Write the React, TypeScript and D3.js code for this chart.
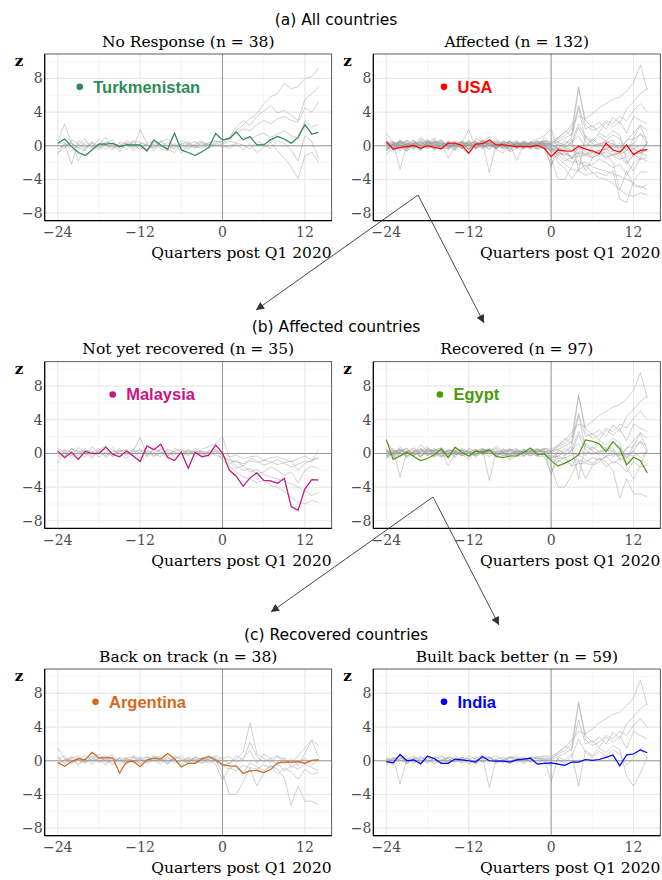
import React from "react";
import * as d3 from "d3";

// quarters relative to Q1 2020
const quarters = [-24, -23, -22, -21, -20, -19, -18, -17, -16, -15, -14, -13, -12, -11, -10, -9, -8, -7, -6, -5, -4, -3, -2, -1, 0, 1, 2, 3, 4, 5, 6, 7, 8, 9, 10, 11, 12, 13, 14];
const xTicks = [-24, -12, 0, 12];
const xMinor = [-18, -6, 6];
const yTicks = [-8, -4, 0, 4, 8];
const yMinor = [-6, -2, 2, 6, 10];

// highlighted countries
const turkmenistan = [0.3, 0.8, -0.1, -0.8, -1.15, -0.5, 0.2, 0.2, 0.3, -0.1, 0.1, 0.1, 0.1, -0.6, 0.7, 0.1, -0.4, 1.5, -0.5, -0.8, -1.15, -0.7, -0.2, 1.45, 0.7, 0.85, 1.65, 0.7, 1.1, 0.1, 0.1, 0.7, 1.1, 0.8, 0.3, 1.0, 2.5, 1.4, 1.6];
const usa = [0.5, -0.4, -0.2, -0.1, 0.05, -0.3, 0, -0.2, -0.35, 0.3, 0.3, 0.05, -0.9, 0.2, 0.25, 0.7, 0.1, 0.1, 0, -0.1, -0.1, -0.1, 0.05, -0.3, -1.3, -0.5, -0.6, -0.65, -0.05, -0.4, -0.6, -0.95, 0.3, -0.5, -0.75, 0.1, -1.05, -0.55, -0.45];
const malaysia = [0.3, -0.5, 0.15, -0.7, 0.25, 0, 0, 0.75, -0.1, -0.4, 0.3, -0.3, -0.95, 0.9, 0.45, 1.1, -0.45, -0.85, 0.15, -1.75, 0.15, -0.4, -0.2, 1.0, 0.05, -2.0, -2.7, -3.9, -2.9, -2.3, -3.2, -3.25, -3.55, -2.95, -6.3, -6.75, -4.2, -3.1, -3.15];
const egypt = [1.65, -0.7, -0.3, 0.15, -0.35, -0.85, -0.6, -0.15, 0.55, -0.5, 0.75, 0.15, -0.3, 0.3, 0.1, 0.45, -0.35, -0.5, -0.3, -0.3, 0.15, 0.65, -0.15, -0.05, -0.85, -1.5, -1.15, -0.75, -0.15, 1.6, 1.45, 1.15, 0.2, 1.4, 0.55, -1.35, -0.45, -0.85, -2.3];
const argentina = [-0.2, -0.65, -0.1, 0.25, 0.1, 1.0, 0.35, 0.35, 0.35, -1.45, -0.15, -0.05, -0.7, 0.1, 0.3, 0.2, 0.85, 0.25, -0.75, -0.3, -0.3, 0.2, 0.5, 0.1, -0.45, -0.6, -0.65, -1.5, -1.2, -1.15, -1.4, -1.05, -0.25, -0.15, -0.15, -0.1, -0.3, 0.05, 0.1];
const india = [-0.1, -0.25, 0.75, 0, 0.1, -0.35, 0.55, 0.25, -0.3, -0.3, 0.2, 0.1, 0, -0.15, 0.5, 0, -0.05, -0.05, -0.15, 0.1, 0.2, 0.3, -0.4, -0.3, -0.25, -0.4, -0.55, -0.15, -0.15, 0.15, 0.05, 0.15, 0.4, 0.7, -0.6, 0.7, 0.8, 1.3, 0.95];

// background countries, no response
const noResponse = [
  [0.6, 2.6, 0.3, -0.4, 0.5, -0.2, 0.8, 0.1, -0.5, 0.4, 0.2, -0.3, 1.9, 0.3, -0.6, 0.5, 0.1, -0.4, 0.6, 0.2, -0.3, 0.4, 0.1, 0.3, 0.6, 1.0, 1.8, 2.5, 3.2, 3.8, 5.0, 5.8, 6.2, 7.4, 6.8, 7.0, 8.0, 8.2, 9.2],
  [-0.8, -0.3, 0.5, -1.8, -0.2, 0.4, -0.5, 0.3, 0.7, -0.4, 0.1, 0.5, -0.2, -0.7, 0.4, 0.0, -0.5, 0.3, -0.9, 0.2, 0.5, -0.1, 0.4, 0.6, 0.3, 0.8, 1.5, 2.0, 1.8, 2.5, 3.0, 2.6, 3.2, 3.5, 3.0, 2.8, 4.5, 4.0, 5.2],
  [0.2, 0.4, -0.6, 0.1, 0.8, -0.3, 0.2, 1.0, -0.2, 0.3, -0.5, 0.6, 0.4, 0.1, -0.3, 0.5, 0.8, -0.2, 0.2, -0.4, 0.3, 0.6, -0.1, 0.2, 0.2, 0.5, 0.4, 1.0, 0.8, 1.2, 1.5, 1.0, 1.4, 1.8, 1.2, 0.9, 3.0, 2.2, 2.6],
  [-0.4, 0.1, 0.3, -0.2, -0.6, 0.5, -0.1, -0.4, 0.2, -0.7, 0.3, -0.1, 0.0, -0.5, 0.2, -0.3, -0.6, 0.1, -0.2, 0.3, -0.1, -0.3, 0.2, 0.0, 0.1, -0.3, 0.2, -0.5, 0.3, -0.8, -0.2, 0.4, -0.6, -1.5, -2.5, -3.9, -1.2, -0.8, -2.0],
  [-1.0, 0.3, -2.2, 0.6, 0.1, -0.5, 0.3, 0.2, -0.3, 0.0, 0.4, -0.6, 0.3, 0.1, -0.2, 0.6, -0.4, -0.8, 0.3, -0.2, 0.1, 0.4, -0.3, 0.1, -0.2, 0.0, 0.3, 0.1, -0.4, 0.5, 0.2, -0.3, 0.6, 0.3, -0.5, -1.8, 1.2, 0.5, -1.5],
  [0.1, -0.2, 0.7, 0.2, -0.4, 0.3, -0.3, 0.5, 0.1, -0.2, 0.6, 0.2, -0.5, 0.3, 0.5, -0.1, 0.4, 0.0, 0.2, 0.5, -0.2, 0.1, 0.3, 0.5, 0.5, 1.0, 2.2, 3.0, 2.4, 3.5, 4.1, 4.8, 3.9, 4.2, 3.6, 3.0, 5.5, 6.2, 7.0],
  turkmenistan,
];

// not yet recovered
const notRecovered = [
  [0.3, -0.4, 0.6, 0.1, -0.5, 0.8, 0.2, -0.3, 0.4, 0.0, -0.6, 0.3, 1.9, -0.2, 0.5, 0.1, -0.4, 0.6, 0.2, -0.3, 0.4, -0.1, 0.3, 0.5, -0.3, -0.8, -1.0, -1.2, -0.9, -1.1, -0.8, -1.0, -1.3, -1.1, -0.9, -2.0, -1.2, -0.8, -0.6],
  [-0.5, 0.2, -0.3, 0.7, 0.1, -0.6, 0.4, 0.9, -0.2, 0.3, 0.5, -0.4, 0.2, 0.6, -0.3, 0.0, 0.4, -0.5, 0.1, 0.3, -0.2, 0.5, 0.8, 1.2, 2.0, -0.5, -1.5, -2.0, -1.8, -2.4, -2.2, -1.6, -2.0, -2.6, -2.2, -3.5, -2.0, -1.5, -1.8],
  [0.6, 0.1, -0.2, -0.6, 0.4, 0.2, -0.4, 0.1, 0.7, -0.3, 0.2, 0.4, -0.5, 0.3, 0.0, -0.4, 0.5, 0.2, -0.6, 0.4, 0.1, -0.3, 0.2, -0.2, -0.5, -1.2, -0.8, -1.5, -0.6, -0.9, -1.4, -1.1, -0.7, -1.2, -1.6, -1.3, -0.9, -1.0, 0.5],
  [-1.2, 0.4, 0.2, -0.3, 0.6, -0.2, 0.1, 0.5, -0.4, 0.6, -0.1, 0.2, 0.4, -0.3, 0.7, 0.2, -0.2, 0.3, 0.5, -0.1, 0.3, 0.1, -0.4, 0.3, -0.8, -1.5, -2.2, -2.8, -3.0, -3.5, -3.2, -3.8, -4.0, -4.5, -5.2, -5.8, -6.0, -5.6, -5.8],
  [0.2, -0.3, 0.5, 0.3, -0.2, 0.1, 0.6, -0.5, 0.2, 0.4, -0.3, 0.5, 0.0, 0.2, -0.4, 0.6, 0.1, -0.2, 0.4, 0.0, 0.6, 0.2, -0.1, 0.4, 0.1, -0.4, -0.2, -0.6, -0.4, -0.3, -0.8, -0.5, -0.4, -0.7, -1.0, -0.6, -0.3, -0.8, -0.4],
  [-0.3, 0.5, -0.6, 0.2, 0.3, -0.4, 0.5, 0.0, -0.3, 0.2, 0.4, -0.2, 0.6, -0.4, 0.1, 0.5, -0.3, 0.2, -0.1, 0.5, -0.4, 0.3, 0.1, 0.2, -0.2, -1.0, -1.8, -1.4, -2.2, -1.9, -2.5, -2.8, -3.0, -3.3, -3.6, -4.0, -4.4, -5.0, -4.6],
  malaysia,
];

// recovered: back on track
const backOnTrack = [
  [0.4, -0.2, 0.5, 0.1, -0.3, 0.6, 0.2, -0.5, 0.3, 0.0, 0.4, -0.3, 0.2, 0.5, -0.1, 0.3, -0.4, 0.6, 0.1, -0.2, 0.4, 0.2, -0.3, 0.1, -1.5, -4.0, -4.0, -2.5, -0.8, -1.0, -0.5, -0.8, -0.3, -1.2, -0.6, -1.0, -0.4, -0.8, -1.2],
  [1.5, 0.3, -0.4, 0.2, 0.7, -0.1, 0.3, 0.6, -0.3, 0.2, -0.5, 0.4, 0.1, -0.2, 0.5, 0.3, -0.4, 0.2, 0.6, -0.1, 0.3, -0.3, 0.2, 0.4, -0.5, -0.3, 0.2, 1.0, 4.5, 0.8, 0.3, -0.2, 0.5, 0.2, -0.3, 0.6, 1.5, 2.5, 1.8],
  [-0.6, 0.2, 0.1, -0.4, 0.3, 0.5, -0.2, 0.1, 0.4, -0.5, 0.2, 0.0, -0.3, 0.4, 0.2, -0.1, 0.5, -0.3, 0.0, 0.3, -0.2, 0.4, 0.1, -0.4, -2.3, -0.8, -1.2, -0.5, -0.9, -3.0, -1.5, -0.6, -1.0, -2.0, -5.3, -3.0, -4.8, -4.8, -5.2],
  [0.2, 0.6, -0.3, 0.4, -0.1, 0.2, 0.8, -0.2, 0.1, 0.3, -0.4, 0.6, 0.2, -0.1, 0.3, 0.6, 0.0, 0.2, -0.3, 0.5, 0.1, 0.3, 0.6, 0.2, 0.2, -0.4, 0.6, 0.1, 2.2, 0.5, -0.2, 0.3, -0.5, 0.4, -0.8, -0.2, 0.3, -0.5, 0.2],
  [-0.3, 0.1, 0.4, -0.6, 0.2, -0.4, 0.3, 0.1, -0.5, 0.4, 0.2, -0.2, 0.5, -0.3, 0.1, -0.4, 0.3, 0.1, -0.6, 0.2, 0.0, -0.3, 0.4, -0.1, -0.6, -1.0, -0.4, -1.5, -0.2, -0.7, -1.2, -0.5, -1.6, -0.9, -1.3, -2.2, -1.0, -1.6, -1.4],
  [0.5, -0.4, 0.3, 0.6, -0.2, 0.3, -0.1, 0.4, 0.7, -0.2, 0.3, 0.5, -0.4, 0.2, 0.6, 0.1, -0.2, 0.4, 0.3, -0.3, 0.5, 0.1, 0.2, 0.6, 0.3, 0.5, -0.2, 0.4, 1.2, -0.3, 0.8, 0.2, 0.6, -0.4, 0.3, -0.6, 0.9, 2.4, 0.4],
  argentina,
];

// recovered: built back better
const builtBetter = [
  [0.3, -0.5, 0.2, 0.6, -0.2, 0.4, 0.1, -0.3, 0.5, 0.2, -0.1, 0.4, -0.4, 0.3, 0.6, 0.0, 0.2, -0.3, 0.4, 0.1, -0.2, 0.5, 0.3, 0.2, 0.3, 0.8, 1.2, 2.0, 7.0, 2.5, 1.8, 2.2, 3.0, 2.6, 3.5, 3.0, 4.2, 5.0, 4.0],
  [-0.4, 0.2, 0.5, -0.2, 0.3, -0.5, 0.6, 0.2, -0.1, 0.4, 0.3, -0.3, 0.1, 0.5, -0.2, 0.3, 0.6, 0.1, -0.4, 0.3, 0.2, -0.1, 0.4, 0.6, 0.5, 1.0, 1.5, 2.5, 3.5, 3.2, 3.8, 4.5, 5.0, 5.5, 5.8, 6.5, 7.5, 9.6, 6.6],
  [0.1, 0.4, -2.8, 0.3, -0.3, 0.2, 0.5, -0.4, 0.1, 0.3, -0.2, 0.4, 0.2, -0.3, 0.5, -3.2, 0.2, 0.4, -0.1, 0.2, 0.5, -0.2, 0.1, 0.3, -2.5, 0.4, 0.1, 0.8, -3.0, 1.2, 0.6, 1.5, 1.0, 1.8, 1.3, -1.8, -3.0, -1.5, 0.5],
  [0.5, -0.2, 0.3, 0.1, 0.6, -0.3, 0.2, 0.4, -0.4, 0.5, 0.1, -0.2, 0.6, 0.2, -0.1, 0.4, -0.3, 0.2, 0.5, -0.2, 0.3, 0.1, -0.3, 0.2, 0.1, 0.5, 0.9, 1.4, 4.8, 2.0, 2.4, 1.6, 2.8, 2.2, 2.9, 1.5, 3.5, 3.0, 2.6],
  [-0.6, 0.4, 0.1, -0.3, 0.2, 0.5, -0.2, 0.3, 0.6, -0.1, 0.2, 0.4, -0.3, 0.0, 0.3, 0.5, -0.2, 0.1, 0.3, 0.6, -0.4, 0.2, 0.5, -0.1, -0.6, 0.2, -0.3, 0.5, 2.6, 1.0, 0.4, 1.1, 0.6, 1.3, 0.8, -0.5, 0.3, 1.5, 0.2],
  [0.2, 0.1, 0.6, -0.4, 0.4, 0.1, -0.3, 0.5, 0.2, -0.2, 0.6, 0.1, 0.3, -0.4, 0.2, 0.4, 0.1, -0.2, 0.5, 0.3, 0.0, 0.4, 0.2, 0.5, 0.2, 0.9, 1.8, 1.2, 6.8, 3.0, 2.2, 2.8, 2.0, 3.4, 2.6, 4.4, 5.2, 6.2, 6.8],
  india,
];

const recovered = [...backOnTrack, ...builtBetter];
const affected = [...notRecovered, ...recovered];

const sections = ["(a) All countries", "(b) Affected countries", "(c) Recovered countries"];

const panels = [
  { title: "No Response (n = 38)", series: noResponse, name: "Turkmenistan", values: turkmenistan, color: "#2e8b57", dotX: -20.8 },
  { title: "Affected (n = 132)", series: affected, name: "USA", values: usa, color: "#ff0000", dotX: -15.6 },
  { title: "Not yet recovered (n = 35)", series: notRecovered, name: "Malaysia", values: malaysia, color: "#c71585", dotX: -16 },
  { title: "Recovered (n = 97)", series: recovered, name: "Egypt", values: egypt, color: "#4a9a0a", dotX: -16.2 },
  { title: "Back on track (n = 38)", series: backOnTrack, name: "Argentina", values: argentina, color: "#d2691e", dotX: -18.5 },
  { title: "Built back better (n = 59)", series: builtBetter, name: "India", values: india, color: "#0000ff", dotX: -15.6 },
];

const W = 662;
const H = 880;
const panelW = 287;
const panelH = 166.7;
const colX = [44.7, 373.3];
const rowY = [54, 361.7, 669];

const serif = "'DejaVu Serif', serif";
const sans = "'Liberation Sans', Arial, sans-serif";

const x = d3.scaleLinear().domain([-25.9, 15.9]).range([0, panelW]);
const y = d3.scaleLinear().domain([-8.9, 10.9]).range([panelH, 0]);
const line = d3.line<number>().x((d, i) => x(quarters[i])).y((d) => y(d));

const fmt = (v: number) => (v < 0 ? "\u2212" + Math.abs(v) : String(v));

function Panel({ p, tx, ty }: { p: any; tx: number; ty: number }) {
  return (
    <g transform={`translate(${tx},${ty})`}>
      <text x={panelW / 2} y={-7.5} textAnchor="middle" fontFamily={serif} fontSize={15.5} fill="#000">{p.title}</text>
      <rect width={panelW} height={panelH} fill="#fff" />
      {yMinor.map((v) => <line key={"ym" + v} x1={0} x2={panelW} y1={y(v)} y2={y(v)} stroke="#f2f2f2" strokeWidth={0.7} />)}
      {xMinor.map((v) => <line key={"xm" + v} x1={x(v)} x2={x(v)} y1={0} y2={panelH} stroke="#f2f2f2" strokeWidth={0.7} />)}
      {yTicks.map((v) => <line key={"yg" + v} x1={0} x2={panelW} y1={y(v)} y2={y(v)} stroke="#e8e8e8" strokeWidth={1.1} />)}
      {xTicks.map((v) => <line key={"xg" + v} x1={x(v)} x2={x(v)} y1={0} y2={panelH} stroke="#e8e8e8" strokeWidth={1.1} />)}
      <line x1={0} x2={panelW} y1={y(0)} y2={y(0)} stroke="#999" strokeWidth={1} />
      <line x1={x(0)} x2={x(0)} y1={0} y2={panelH} stroke="#999" strokeWidth={1} />
      {p.series.map((s: number[], i: number) => (
        <path key={i} d={line(s) || ""} fill="none" stroke="#9a9a9a" strokeOpacity={0.5} strokeWidth={0.9} />
      ))}
      <path d={line(p.values) || ""} fill="none" stroke={p.color} strokeWidth={1.2} />
      <circle cx={x(p.dotX)} cy={y(7)} r={3.3} fill={p.color} />
      <text x={x(p.dotX) + 13.5} y={y(7)} dy="0.36em" fontFamily={sans} fontWeight="bold" fontSize={16.5} fill={p.color}>{p.name}</text>
      <rect width={panelW} height={panelH} fill="none" stroke="#333" strokeWidth={0.8} />
      <line x1={0} x2={0} y1={0} y2={panelH} stroke="#000" strokeWidth={1.2} />
      <line x1={0} x2={panelW} y1={panelH} y2={panelH} stroke="#000" strokeWidth={1.2} />
      <text x={-30} y={12} fontFamily={serif} fontWeight="bold" fontSize={15} fill="#000">z</text>
      {yTicks.map((v) => (
        <text key={"yt" + v} x={-2} y={y(v)} dy="0.36em" textAnchor="end" fontFamily={serif} fontSize={14} fill="#4d4d4d">{fmt(v)}</text>
      ))}
      {xTicks.map((v) => (
        <text key={"xt" + v} x={x(v)} y={panelH + 16.5} textAnchor="middle" fontFamily={serif} fontSize={14} fill="#4d4d4d">{fmt(v)}</text>
      ))}
      <text x={panelW} y={panelH + 37.6} textAnchor="end" fontFamily={serif} fontSize={15.5} fill="#000">Quarters post Q1 2020</text>
    </g>
  );
}

// annotation arrows between rows
const arrows = [
  { from: [418, 195], to: [[256, 310], [484, 323]] },
  { from: [433, 497], to: [[271, 612], [499, 625]] },
];

export default function App() {
  return (
    <svg width={W} height={H} style={{ position: "absolute", left: 0, top: 0, background: "#fff" }}>
      <defs>
        <marker id="arr" viewBox="0 0 10 10" refX={10} refY={5} markerWidth={9} markerHeight={8} markerUnits="userSpaceOnUse" orient="auto">
          <path d="M0,0 L10,5 L0,10 z" fill="#333" />
        </marker>
      </defs>
      <rect width={W} height={H} fill="#fff" />
      {sections.map((s, i) => (
        <text key={s} x={336} y={rowY[i] - 29.5} textAnchor="middle" fontFamily="'DejaVu Sans', sans-serif" fontSize={15.5} fill="#000">{s}</text>
      ))}
      {panels.map((p, i) => (
        <Panel key={p.title} p={p} tx={colX[i % 2]} ty={rowY[Math.floor(i / 2)]} />
      ))}
      {arrows.map((a, i) =>
        a.to.map((t, j) => (
          <line key={i + "-" + j} x1={a.from[0]} y1={a.from[1]} x2={t[0]} y2={t[1]} stroke="#333" strokeWidth={0.9} markerEnd="url(#arr)" />
        ))
      )}
    </svg>
  );
}
